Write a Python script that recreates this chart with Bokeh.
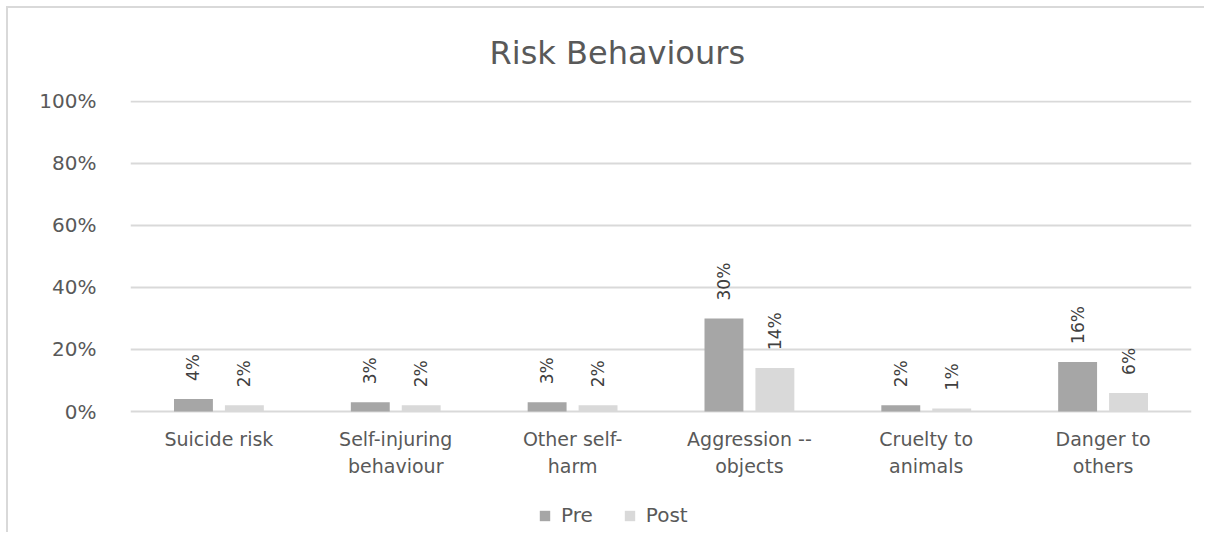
from bokeh.plotting import figure
from bokeh.models import (ColumnDataSource, FactorRange, Range1d, Legend, LegendItem,
                          NumeralTickFormatter, FixedTicker)
from bokeh.core.properties import value
from bokeh.transform import dodge
from bokeh.embed import file_html
from bokeh.resources import INLINE
import math

categories = ["Suicide risk", "Self-injuring\nbehaviour", "Other self-\nharm",
              "Aggression --\nobjects", "Cruelty to\nanimals", "Danger to\nothers"]
pre = [0.04, 0.03, 0.03, 0.30, 0.02, 0.16]
post = [0.02, 0.02, 0.02, 0.14, 0.01, 0.06]
pre_labels = ["4%", "3%", "3%", "30%", "2%", "16%"]
post_labels = ["2%", "2%", "2%", "14%", "1%", "6%"]
y_ticks = [0, 0.2, 0.4, 0.6, 0.8, 1.0]

FONT = "DejaVu Sans"
TXT = "#595959"

src = ColumnDataSource(dict(cat=categories, pre=pre, post=post,
                            pre_l=pre_labels, post_l=post_labels,
                            zero=[0] * len(categories)))

p = figure(width=1204, height=532, x_range=FactorRange(*categories, range_padding=0),
           y_range=Range1d(-0.387, 1.003), output_backend="svg", toolbar_location=None,
           min_border_left=130, min_border_right=13, min_border_top=100,
           min_border_bottom=1)
p.outline_line_color = None
p.x_range.factor_padding = 0
p.border_fill_alpha = 0
p.background_fill_alpha = 0
p.styles = {
    "background": ("linear-gradient(#d9d9d9,#d9d9d9) 6px 6px / 1198px 2px no-repeat, "
                   "linear-gradient(#d9d9d9,#d9d9d9) 6px 6px / 2px 526px no-repeat, white"),
}

p.title.text = "Risk Behaviours"
p.title.align = "left"
p.title.offset = 359
p.title.text_font = FONT
p.title.text_font_size = "32px"
p.title.text_font_style = "normal"
p.title.text_color = TXT
p.title.standoff = 58

r_pre = p.vbar(x=dodge("cat", -0.144, range=p.x_range), top="pre", width=0.22,
               source=src, fill_color="#a6a6a6", line_color=None)
r_post = p.vbar(x=dodge("cat", 0.144, range=p.x_range), top="post", width=0.22,
                source=src, fill_color="#d9d9d9", line_color=None)

for xoff, col in ((-0.144, "pre"), (0.144, "post")):
    p.text(x=dodge("cat", xoff, range=p.x_range), y=col, text=col + "_l", source=src,
           angle=math.pi / 2, text_align="left", text_baseline="middle",
           y_offset=-18, text_font=value(FONT), text_font_size="17px",
           text_color="#404040")

# category labels beneath the zero line
p.text(x="cat", y="zero", text="cat", source=src, text_align="center",
       text_baseline="top", y_offset=16, text_font=value(FONT),
       text_font_size="19px", text_color=TXT, text_line_height=1.25)

p.xaxis.visible = False

p.yaxis.ticker = FixedTicker(ticks=y_ticks)
p.yaxis.formatter = NumeralTickFormatter(format="0%")
p.yaxis.axis_line_color = None
p.yaxis.major_tick_line_color = None
p.yaxis.minor_tick_line_color = None
p.yaxis.major_label_text_font = FONT
p.yaxis.major_label_text_font_size = "20px"
p.yaxis.major_label_text_color = TXT
p.yaxis.major_label_standoff = 28

p.xgrid.grid_line_color = None
p.ygrid.grid_line_color = "#d9d9d9"
p.ygrid.grid_line_width = 2
p.ygrid.ticker = FixedTicker(ticks=y_ticks)

legend = Legend(items=[LegendItem(label="Pre", renderers=[r_pre]),
                       LegendItem(label="Post", renderers=[r_post])],
                orientation="horizontal", location=(408, 4),
                label_text_font=FONT, label_text_font_size="20px",
                label_text_color=TXT, glyph_width=13, glyph_height=13,
                label_standoff=10, spacing=30, border_line_color=None,
                background_fill_alpha=0, padding=0, margin=0)
p.add_layout(legend, "center")

open("out.html", "w").write(file_html(p, INLINE))
